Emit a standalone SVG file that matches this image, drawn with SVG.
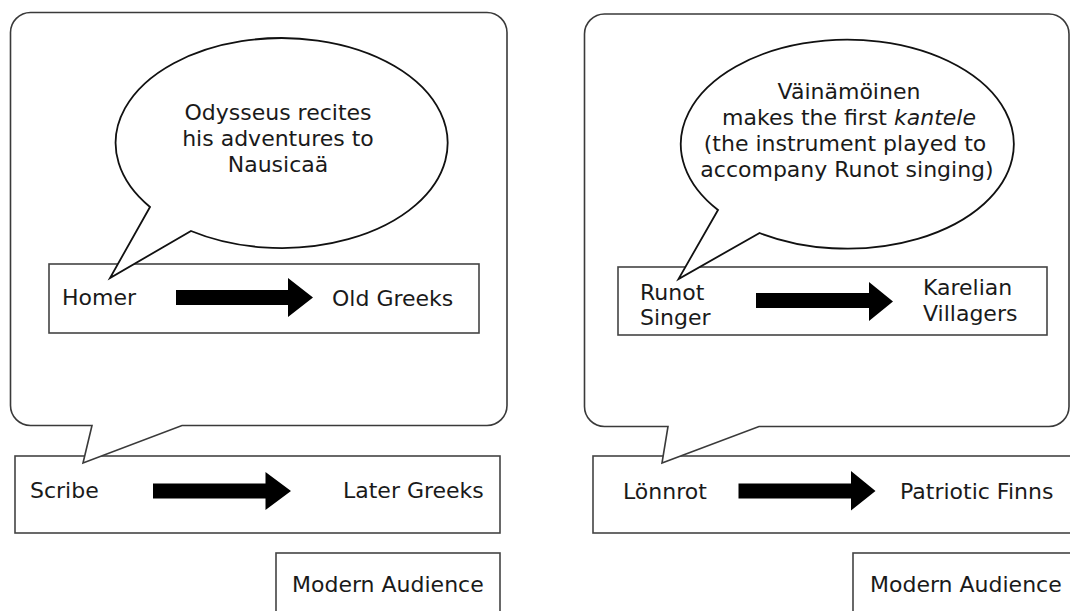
<svg xmlns="http://www.w3.org/2000/svg" width="1070" height="611" viewBox="0 0 1070 611">
<style>
.bg{fill:#ffffff}
.box{fill:#ffffff;stroke:#444444;stroke-width:1.6}
.bubble{fill:#ffffff;stroke:#3a3a3a;stroke-width:1.6;stroke-linejoin:miter}
.speech{fill:#ffffff;stroke:#111111;stroke-width:1.8;stroke-linejoin:miter}
.t{font-family:"DejaVu Sans","Liberation Sans",sans-serif;font-size:22px;fill:#1a1a1a}
.m{text-anchor:middle}
.arrow{fill:#000000;stroke:none}
</style>
<rect class="bg" x="0" y="0" width="1070" height="611"/>

<!-- LEFT -->
<g id="scribe-box">
  <rect class="box" x="15" y="456" width="485" height="77"/>
  <text class="t" x="30" y="498">Scribe</text>
  <text class="t" x="343" y="498">Later Greeks</text>
</g>
<g id="modern-audience-left">
  <rect class="box" x="276" y="553" width="224" height="70"/>
  <text class="t" x="292" y="592">Modern Audience</text>
</g>
<g id="scribe-bubble">
  <path class="bubble" d="M30.5 12.5 H487 A20 20 0 0 1 507 32.5 V405.5 A20 20 0 0 1 487 425.5 H182 L83 463 L92 425.5 H30.5 A20 20 0 0 1 10.5 405.5 V32.5 A20 20 0 0 1 30.5 12.5 Z"/>
</g>
<g id="homer-box">
  <rect class="box" x="49" y="264" width="430" height="69"/>
  <text class="t" x="62" y="305">Homer</text>
  <text class="t" x="332" y="306">Old Greeks</text>
</g>
<g id="homer-speech">
  <path class="speech" d="M150 207 L110 278 L191 231 A166 105 0 1 0 150 207 Z"/>
  <text class="t m" x="278" y="120">Odysseus recites</text>
  <text class="t m" x="278" y="146">his adventures to</text>
  <text class="t m" x="278" y="172">Nausicaä</text>
</g>

<!-- RIGHT -->
<g id="lonnrot-box">
  <rect class="box" x="593" y="456" width="490" height="77"/>
  <text class="t" x="623" y="499">Lönnrot</text>
  <text class="t" x="900" y="499">Patriotic Finns</text>
</g>
<g id="modern-audience-right">
  <rect class="box" x="853" y="553" width="230" height="70"/>
  <text class="t" x="870" y="592">Modern Audience</text>
</g>
<g id="lonnrot-bubble">
  <path class="bubble" d="M604.5 14 H1049 A20 20 0 0 1 1069 34 V406.5 A20 20 0 0 1 1049 426.5 H759 L662 463 L668 426.5 H604.5 A20 20 0 0 1 584.5 406.5 V34 A20 20 0 0 1 604.5 14 Z"/>
</g>
<g id="runot-box">
  <rect class="box" x="618" y="267" width="429" height="68"/>
  <text class="t" x="640" y="300">Runot</text>
  <text class="t" x="640" y="325">Singer</text>
  <text class="t" x="923" y="295">Karelian</text>
  <text class="t" x="923" y="321">Villagers</text>
</g>
<g id="runot-speech">
  <path class="speech" d="M718 210 L678.5 279 L759.6 233 A166.5 104.5 0 1 0 718 210 Z"/>
  <text class="t m" x="849" y="99">Väinämöinen</text>
  <text class="t m" x="849" y="125">makes the first <tspan font-style="italic">kantele</tspan></text>
  <text class="t m" x="845" y="151">(the instrument played to</text>
  <text class="t m" x="847" y="177">accompany Runot singing)</text>
</g>

<g id="connectors">
  <polygon class="arrow" points="176,290 288,290 288,278 313,297.5 288,317 288,305 176,305"/>
  <polygon class="arrow" points="153,483.5 265.5,483.5 265.5,472 291,491 265.5,510 265.5,498.5 153,498.5"/>
  <polygon class="arrow" points="756,293 869,293 869,282 893,301.5 869,321 869,308 756,308"/>
  <polygon class="arrow" points="738.5,483.5 851,483.5 851,471 875.5,491 851,510.5 851,498.5 738.5,498.5"/>
</g>
</svg>
